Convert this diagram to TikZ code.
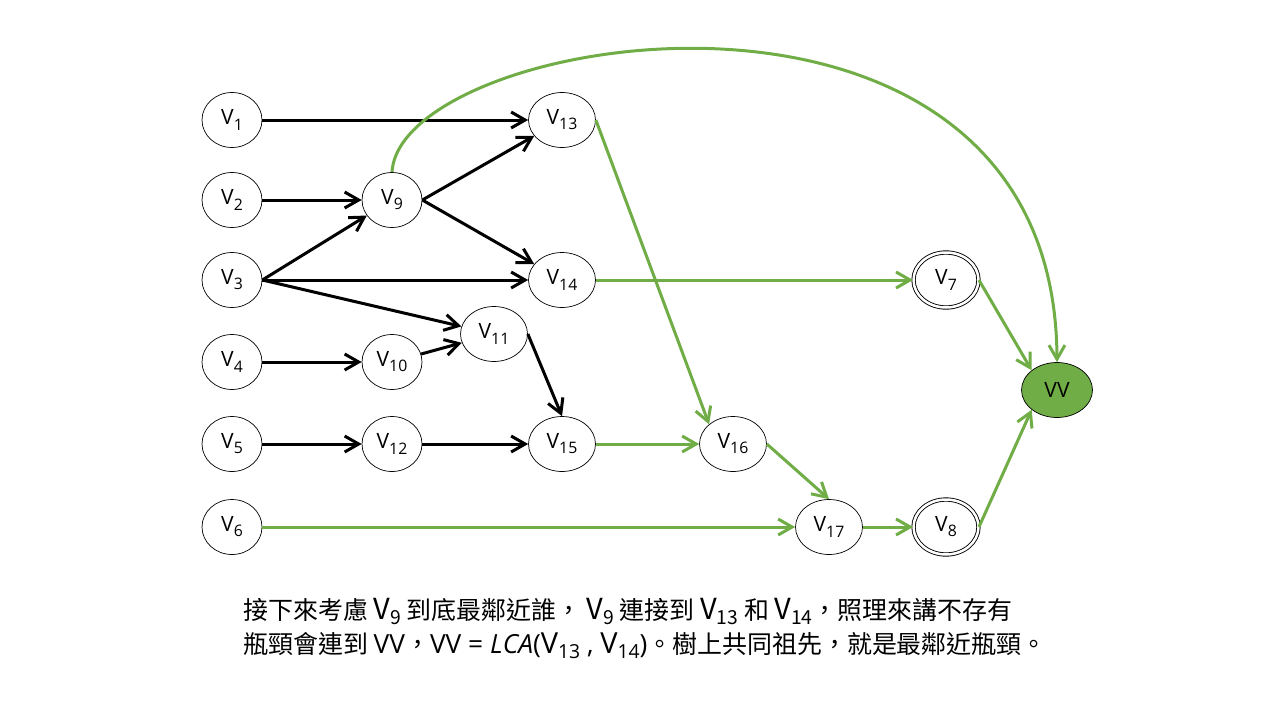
\documentclass[tikz,border=0pt]{standalone}
\usepackage{fontspec}
\setmainfont{Open Sans}
\newfontfamily\cjk{Noto Sans CJK TC}
\usetikzlibrary{shapes.geometric}
\usetikzlibrary{arrows.meta}
\definecolor{lcagreen}{RGB}{112,173,71}

\newcommand{\vsub}[1]{V\raisebox{-0.45ex}{\fontsize{9}{9}\selectfont #1}}
\newcommand{\bigv}[1]{{\fontsize{16.5}{16}\selectfont V}\raisebox{-0.4ex}{\fontsize{11}{11}\selectfont #1}}

\tikzset{
vert/.style={draw, ellipse, thin, minimum width=1.2cm, minimum height=1.1cm, inner sep=0pt, font=\fontsize{12}{14}\selectfont},
sink/.style={vert, double, line width=0.5pt, double distance=0.05cm},
blk/.style={black, line width=0.06cm, -{Straight Barb[length=0.28cm, width=0.32cm]}},
grn/.style={lcagreen, line width=0.06cm, -{Straight Barb[length=0.28cm, width=0.32cm]}}
}

\begin{document}
\begin{tikzpicture}[x=0.02cm, y=-0.02cm]
\useasboundingbox (0,0) rectangle (1280,720);

% nodes %
\foreach \i/\y in {1/120, 2/200, 3/280, 4/362, 5/444, 6/527}
\node[vert] (v\i) at (232,\y) {\vsub{\i}};

\node[vert] (v9) at (392,200) {\vsub{9}};
\node[vert] (v10) at (392,362) {\vsub{10}};
\node[vert] (v12) at (392,444) {\vsub{12}};
\node[vert, minimum width=1.34cm] (v13) at (562,120) {\vsub{13}};
\node[vert, minimum width=1.34cm] (v14) at (562,280) {\vsub{14}};
\node[vert, minimum width=1.34cm] (v11) at (494,334) {\vsub{11}};
\node[vert, minimum width=1.34cm] (v15) at (562,444) {\vsub{15}};
\node[vert, minimum width=1.34cm] (v16) at (733,444) {\vsub{16}};
\node[vert, minimum width=1.34cm] (v17) at (829,527) {\vsub{17}};
\node[sink, minimum width=1.3cm] (v7) at (946,280) {\vsub{7}};
\node[sink, minimum width=1.3cm] (v8) at (946,527) {\vsub{8}};
\node[vert, fill=lcagreen, minimum width=1.42cm] (vv) at (1057,390) {VV};

% black edges %
\draw[blk] (v1) -- (v13);
\draw[blk] (v2) -- (v9);
\draw[blk] (v3.east) -- (v9);
\draw[blk] (v3.east) -- (v14);
\draw[blk] (v3.east) -- (v11);
\draw[blk] (v9.east) -- (v13);
\draw[blk] (v9.east) -- (v14);
\draw[blk] (v4) -- (v10);
\draw[blk] (v10) -- (v11);
\draw[blk] (v11.east) -- (v15.north);
\draw[blk] (v5) -- (v12);
\draw[blk] (v12) -- (v15);

% green edges %
\draw[grn] (v9.north) .. controls (400,30) and (1055,-75) .. (vv.north);
\draw[grn] (v13.east) -- (v16.north west);
\draw[grn] (v14) -- (v7);
\draw[grn] (v7.east) -- (vv.north west);
\draw[grn] (v15) -- (v16);
\draw[grn] (v16.east) -- (v17.north);
\draw[grn] (v6) -- (v17);
\draw[grn] (v17) -- (v8);
\draw[grn] (v8.east) -- (vv.south west);

% caption %
\node[anchor=base west, inner sep=0pt] (line1) at (243,619)
{\fontsize{14.2}{16}\selectfont\cjk 接下來考慮 \bigv{9} 到底最鄰近誰， \bigv{9} 連接到 \bigv{13} 和 \bigv{14}，照理來講不存有};
\node[anchor=base west, inner sep=0pt] (line2) at (243,653)
{\fontsize{14.2}{16}\selectfont\cjk 瓶頸會連到 {\rmfamily\fontsize{15}{16}\selectfont VV}，{\rmfamily\fontsize{15}{16}\selectfont VV = \textit{LCA}(\bigv{13} , \bigv{14})}。樹上共同祖先，就是最鄰近瓶頸。};

\end{tikzpicture}
\end{document}
